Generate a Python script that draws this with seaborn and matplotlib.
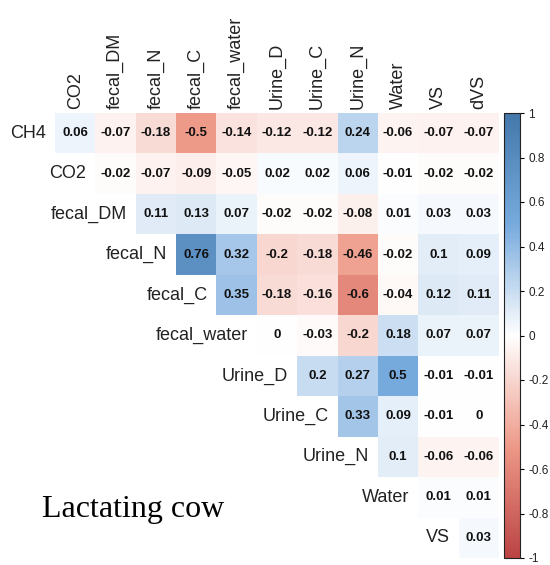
import numpy as np
import pandas as pd
import seaborn as sns
import matplotlib.pyplot as plt
from matplotlib.colors import LinearSegmentedColormap

# degiskenler
row_names = ["CH4", "CO2", "fecal_DM", "fecal_N", "fecal_C", "fecal_water",
             "Urine_D", "Urine_C", "Urine_N", "Water", "VS"]
col_names = ["CO2", "fecal_DM", "fecal_N", "fecal_C", "fecal_water", "Urine_D",
             "Urine_C", "Urine_N", "Water", "VS", "dVS"]

# her satir kosegenden baslar (ust ucgen)
r_ch4 = [0.06, -0.07, -0.18, -0.5, -0.14, -0.12, -0.12, 0.24, -0.06, -0.07, -0.07]
r_co2 = [-0.02, -0.07, -0.09, -0.05, 0.02, 0.02, 0.06, -0.01, -0.02, -0.02]
r_fecal_dm = [0.11, 0.13, 0.07, -0.02, -0.02, -0.08, 0.01, 0.03, 0.03]
r_fecal_n = [0.76, 0.32, -0.2, -0.18, -0.46, -0.02, 0.1, 0.09]
r_fecal_c = [0.35, -0.18, -0.16, -0.6, -0.04, 0.12, 0.11]
r_fecal_water = [0, -0.03, -0.2, 0.18, 0.07, 0.07]
r_urine_d = [0.2, 0.27, 0.5, -0.01, -0.01]
r_urine_c = [0.33, 0.09, -0.01, 0]
r_urine_n = [0.1, -0.06, -0.06]
r_water = [0.01, 0.01]
r_vs = [0.03]

rows = [r_ch4, r_co2, r_fecal_dm, r_fecal_n, r_fecal_c, r_fecal_water,
        r_urine_d, r_urine_c, r_urine_n, r_water, r_vs]

cbar_ticks = [-1, -0.8, -0.6, -0.4, -0.2, 0, 0.2, 0.4, 0.6, 0.8, 1]
cbar_labels = ["-1", "-0.8", "-0.6", "-0.4", "-0.2", "0", "0.2", "0.4", "0.6", "0.8", "1"]

n = len(row_names)
mat = np.full((n, n), np.nan)
for i, r in enumerate(rows):
    mat[i, i:] = r
df = pd.DataFrame(mat, index=row_names, columns=col_names)
labels = df.map(lambda v: "" if pd.isna(v) else f"{v:g}")

cmap = LinearSegmentedColormap.from_list(
    "corr", ["#BB4444", "#EE9988", "#FFFFFF", "#77AADD", "#4477AA"], N=200)

plt.rcParams["font.family"] = ["Liberation Sans", "DejaVu Sans"]

fig = plt.figure(figsize=(5.5, 5.65), dpi=100)
ax = fig.add_axes([55 / 550, 7 / 565, 444 / 550, 445 / 565])
cax = fig.add_axes([504 / 550, 7 / 565, 16 / 550, 445 / 565])

sns.heatmap(df, mask=df.isna(), cmap=cmap, vmin=-1, vmax=1, annot=labels, fmt="",
            annot_kws={"fontsize": 9.5, "fontweight": "bold", "color": "#111111"},
            linewidths=0, cbar_ax=cax, ax=ax,
            xticklabels=col_names, yticklabels=False)

ax.xaxis.tick_top()
ax.tick_params(axis="x", length=0, pad=3, labelsize=13, labelcolor="#222222")
plt.setp(ax.get_xticklabels(), rotation=90, ha="center", va="bottom")
ax.set_xlabel("")
ax.set_ylabel("")

# satir etiketleri kosegenin solunda
for i, name in enumerate(row_names):
    ax.text(i - 0.22, i + 0.5, name, ha="right", va="center",
            fontsize=13, color="#222222")

cbar = ax.collections[0].colorbar
cbar.set_ticks(cbar_ticks)
cbar.set_ticklabels(cbar_labels)
cbar.ax.tick_params(labelsize=8.5, length=3, width=0.8, pad=3, labelcolor="#222222")
cbar.outline.set_visible(True)
cbar.outline.set_edgecolor("#222222")
cbar.outline.set_linewidth(0.8)

fig.text(42 / 550, 48 / 565, "Lactating cow", fontsize=23,
         family=["Liberation Serif", "DejaVu Serif"], ha="left", va="baseline")

fig.savefig("out.png", dpi=100)
